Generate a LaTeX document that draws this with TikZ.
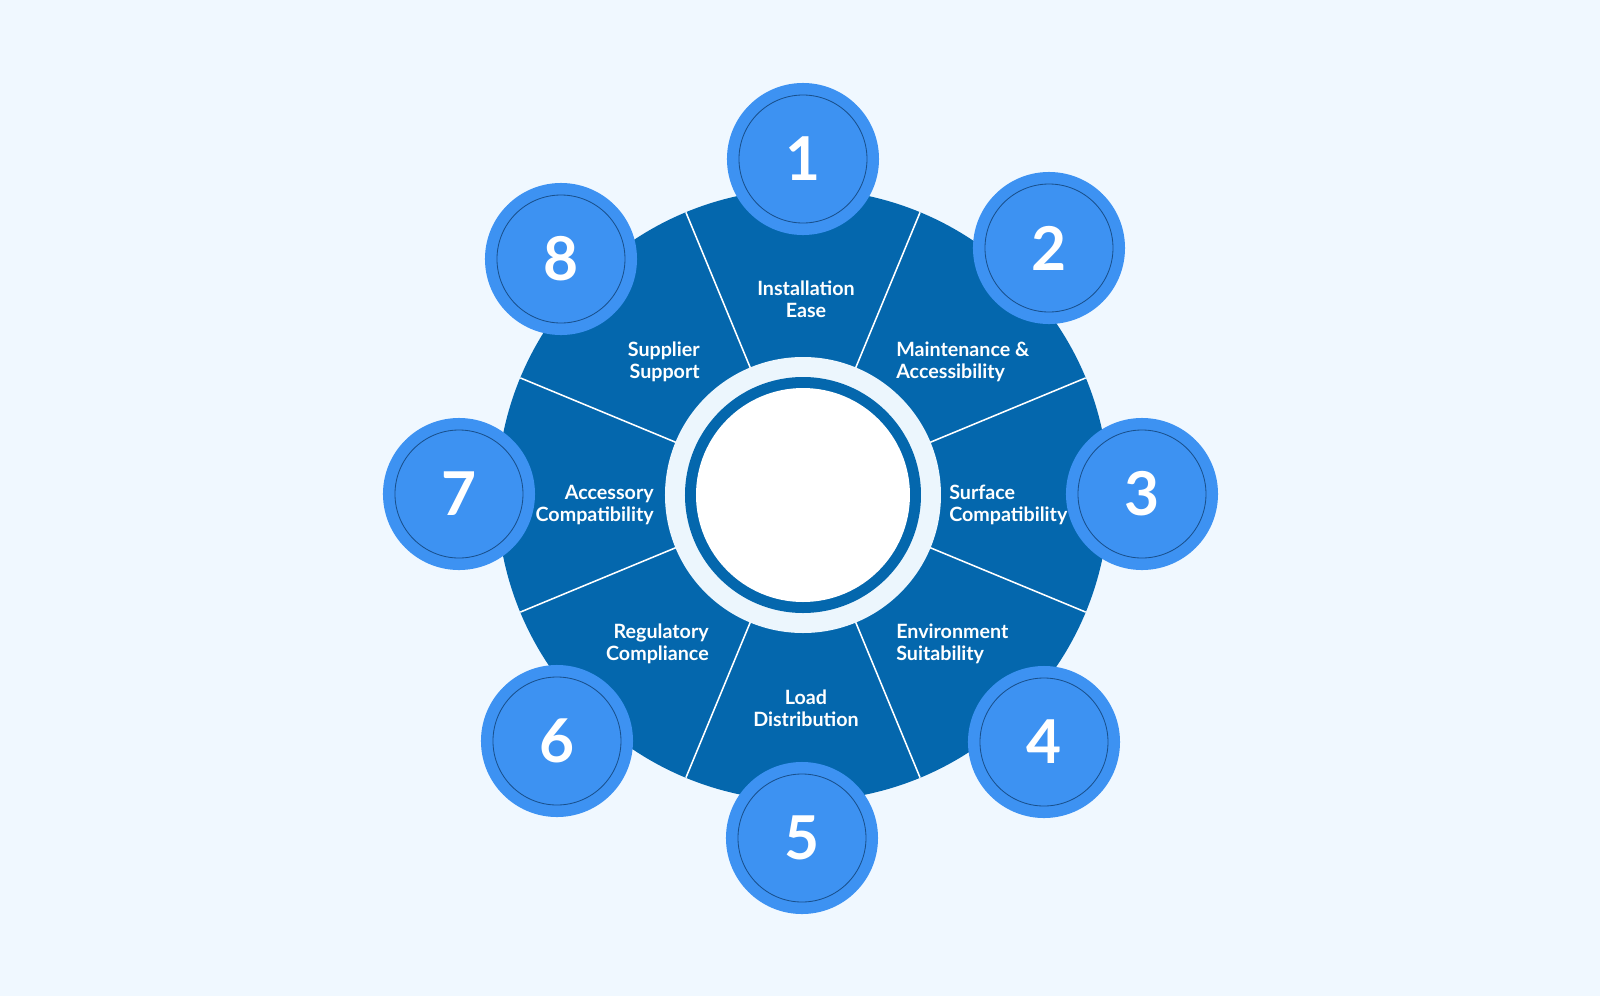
\documentclass[tikz,border=0pt]{standalone}
\usepackage{fontspec}
\setmainfont{Lato}
\usetikzlibrary{positioning}
\definecolor{sky}{RGB}{240,248,255}
\definecolor{deep}{RGB}{4,103,173}
\definecolor{azure}{RGB}{61,146,242}
\definecolor{rim}{RGB}{25,80,140}
\definecolor{mist}{RGB}{236,246,253}
\tikzset{
  badge/.style={circle,fill=azure,minimum size=3.8cm,inner sep=0pt,
    text=white,font=\fontsize{43}{43}\selectfont\bfseries},
  tag/.style={text=white,font=\fontsize{14}{15.6}\selectfont\bfseries,
    inner sep=0pt,align=#1},
  tag/.default=center,
  divider/.style={white,line width=1.1pt},
}

\begin{document}
\begin{tikzpicture}[x=0.025cm,y=0.025cm]
  \fill[sky] (-803,-501) rectangle (797,495);
  \useasboundingbox (-803,-501) rectangle (797,495);
  % wheel
  \fill[deep] (0,0) circle (306);
  \foreach \a in {22.5,67.5,...,337.5}
    \draw[divider] (\a:136) -- (\a:306);
  \fill[mist] (0,0) circle (138);
  \fill[deep] (0,0) circle (118);
  \fill[white] (0,0) circle (107);
  % numbered badges
  \foreach \i/\x/\y in {1/0/336,2/246/247,3/339/1,4/241/-247,5/-1/-343,
                        6/-246/-246,7/-344/1,8/-242/236}{
    \node[badge] (n\i) at (\x,\y) {\i};
    \draw[rim,line width=0.6pt] (n\i.center) circle (64);
  }
  % segment labels
  \node[tag] (l1) at (3,196) {Installation\\Ease};
  \node[tag=left,anchor=west] (l2) at (93,133) {Maintenance \&\\Accessibility};
  \node[tag=left,anchor=west] (l3) at (146,-10) {Surface\\Compatibility};
  \node[tag=left,anchor=west] (l4) at (93,-149) {Environment\\Suitability};
  \node[tag] (l5) at (3,-213) {Load\\Distribution};
  \node[tag=right,anchor=east] (l6) at (-94,-149) {Regulatory\\Compliance};
  \node[tag=right,anchor=east] (l7) at (-149,-10) {Accessory\\Compatibility};
  \node[tag=right,anchor=east] (l8) at (-103,133) {Supplier\\Support};
\end{tikzpicture}
\end{document}
